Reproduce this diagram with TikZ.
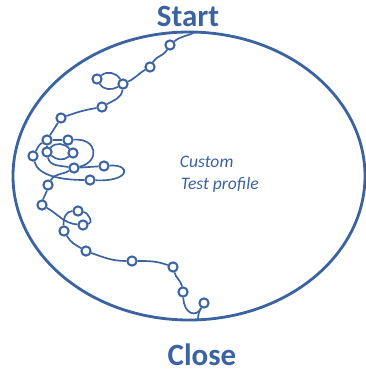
\documentclass[tikz,border=0pt]{standalone}
\usepackage{fontspec}
\setmainfont{Carlito}
\usepackage{tikz}
\usetikzlibrary{arrows.meta,positioning,calc}
\definecolor{profblue}{HTML}{3A63A0}
\tikzset{
  halt/.style={circle, draw=profblue, fill=white, line width=1.45pt, inner sep=0pt, minimum size=2.3mm},
  trail/.style={draw=profblue, line width=1.2pt},
  rim/.style={draw=profblue, line width=2pt},
  endtxt/.style={anchor=base, text=profblue, font=\fontsize{22}{26}\selectfont\bfseries},
  notetxt/.style={anchor=base west, text=profblue, font=\fontsize{12.5}{15}\selectfont\itshape},
}
\begin{document}
\begin{tikzpicture}[x=0.25mm, y=-0.25mm]
    \useasboundingbox (0,0) rectangle (366,371);
    \draw[rim] (189,176) ellipse [x radius=44mm, y radius=36mm];
    \node[endtxt] (start) at (188,26) {Start};
    \node[endtxt] (close) at (202,365) {Close};
    \node[notetxt] (note1) at (175,167) {Custom};
    \node[notetxt] (note2) at (176,189) {Test profile};
    % stops along the profile
    \coordinate (s) at (195,32);
    \node[halt] (w1) at (170,45) {};
    \node[halt] (w2) at (150,67) {};
    \node[halt] (w3) at (123,84) {};
    \node[halt] (w4) at (97,79) {};
    \node[halt] (w5) at (102,107) {};
    \node[halt] (w6) at (61,118) {};
    \node[halt] (w7) at (47,140) {};
    \node[halt] (w8) at (68,140) {};
    \node[halt] (w9) at (33,156) {};
    \node[halt] (w10) at (47,152) {};
    \node[halt] (w11) at (73,153) {};
    \node[halt] (w12) at (74,168) {};
    \node[halt] (w13) at (104,166) {};
    \node[halt] (w14) at (90,180) {};
    \node[halt] (w15) at (48,185) {};
    \node[halt] (w16) at (42,205) {};
    \node[halt] (w17) at (78,211) {};
    \node[halt] (w18) at (83,225) {};
    \node[halt] (w19) at (64,231) {};
    \node[halt] (w20) at (86,251) {};
    \node[halt] (w21) at (132,261) {};
    \node[halt] (w22) at (173,267) {};
    \node[halt] (w23) at (183,292) {};
    \node[halt] (w24) at (204,303) {};
    \coordinate (e) at (198,320);
    % the profile
    \draw[trail] (s) to[out=-150,in=40] (w1);
    \draw[trail] (w1) to[out=-120,in=60] (w2);
    \draw[trail] (w2) to[out=-150,in=25] (w3);
    \draw[trail] (w3) to[out=120,in=40] (w4);
    \draw[trail] (w4) to[out=-60,in=-150] (w3);
    \draw[trail] (w3) to[out=-95,in=30] (w5);
    \draw[trail] (w5) to[out=-170,in=20] (w6);
    \draw[trail] (w6) -- (w7);
    \draw[trail] (w7) -- (w8);
    \draw[trail] (w7) to[out=-150,in=60] (w9);
    \draw[trail] (w7) -- (w10);
    \draw[trail] (w10) to[out=50,in=130] (w11);
    \draw[trail] (w11) to[out=-140,in=-40] (w10);
    \draw[trail] (w10) to[out=-80,in=170] (w12);
    \draw[trail] (w8) .. controls (98,138) and (100,162) .. (w12);
    \draw[trail] (w12) -- (w13);
    \draw[trail] (w13) .. controls (132,164) and (130,182) .. (w14);
    \draw[trail] (w9) .. controls (38,176) and (62,180) .. (w14);
    \draw[trail] (w12) to[out=-150,in=60] (w15);
    \draw[trail] (w15) to[out=-100,in=80] (w16);
    \draw[trail] (w16) to[out=-30,in=175] (w18);
    \draw[trail] (w18) to[out=10,in=-10] (w17);
    \draw[trail] (w17) to[out=180,in=95] (w19);
    \draw[trail] (w19) to[out=-60,in=150] (w20);
    \draw[trail] (w20) to[out=-20,in=180] (w21);
    \draw[trail] (w21) to[out=0,in=160] (w22);
    \draw[trail] (w22) to[out=-75,in=100] (w23);
    \draw[trail] (w23) .. controls (184,314) and (196,318) .. (w24);
    \draw[trail] (w24) to[out=-120,in=90] (e);
\end{tikzpicture}
\end{document}
